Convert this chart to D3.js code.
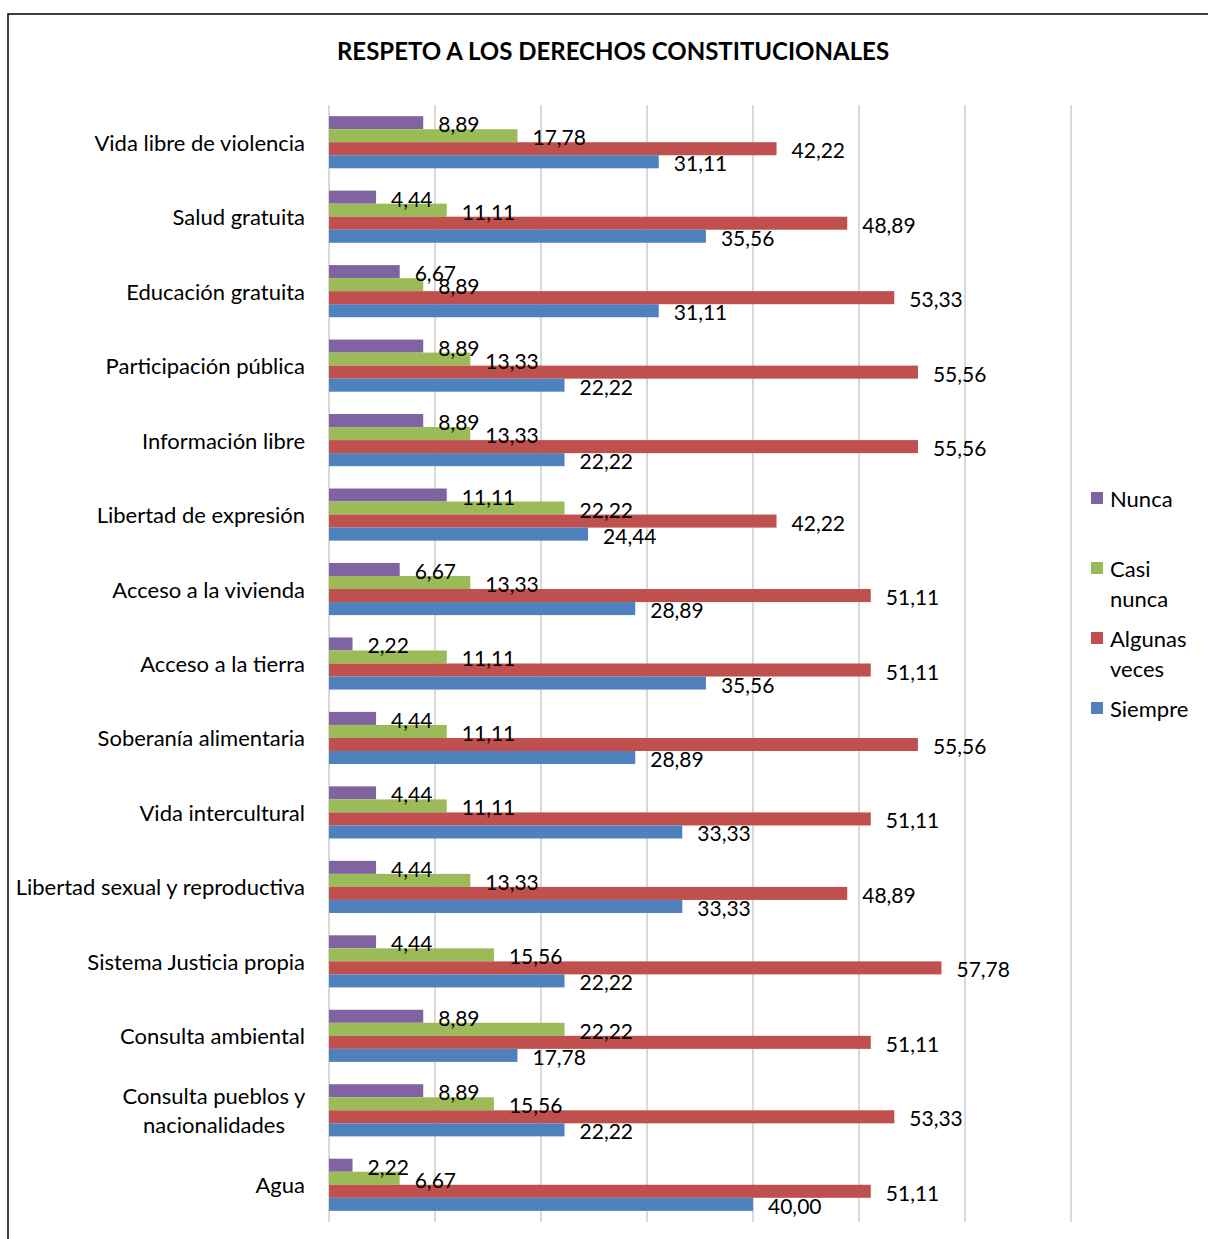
<!DOCTYPE html>
<html>
<head>
<meta charset="utf-8">
<script src="https://cdn.jsdelivr.net/npm/d3@7"></script>
<style>
  body { margin: 0; background: #fff; }
  text { font-family: Lato, "Open Sans", sans-serif; fill: #000; }
</style>
</head>
<body>
<div id="chart"></div>
<script>
var categories = [
  "Vida libre de violencia", "Salud gratuita", "Educación gratuita",
  "Participación pública", "Información libre", "Libertad de expresión",
  "Acceso a la vivienda", "Acceso a la tierra", "Soberanía alimentaria",
  "Vida intercultural", "Libertad sexual y reproductiva", "Sistema Justicia propia",
  "Consulta ambiental", "Consulta pueblos y nacionalidades", "Agua"
];
var nunca        = [8.89, 4.44, 6.67, 8.89, 8.89, 11.11, 6.67, 2.22, 4.44, 4.44, 4.44, 4.44, 8.89, 8.89, 2.22];
var casiNunca    = [17.78, 11.11, 8.89, 13.33, 13.33, 22.22, 13.33, 11.11, 11.11, 11.11, 13.33, 15.56, 22.22, 15.56, 6.67];
var algunasVeces = [42.22, 48.89, 53.33, 55.56, 55.56, 42.22, 51.11, 51.11, 55.56, 51.11, 48.89, 57.78, 51.11, 53.33, 51.11];
var siempre      = [31.11, 35.56, 31.11, 22.22, 22.22, 24.44, 28.89, 35.56, 28.89, 33.33, 33.33, 22.22, 17.78, 22.22, 40.00];
var xTicks = [0, 10, 20, 30, 40, 50, 60, 70];

var series = [
  {name: "Nunca", legend: ["Nunca"], values: nunca, color: "#8064A2"},
  {name: "Casi nunca", legend: ["Casi", "nunca"], values: casiNunca, color: "#9BBB59"},
  {name: "Algunas veces", legend: ["Algunas", "veces"], values: algunasVeces, color: "#C0504D"},
  {name: "Siempre", legend: ["Siempre"], values: siempre, color: "#4F81BD"}
];

var W = 1208, H = 1239;
var plot = {left: 329, right: 1071, top: 105, bottom: 1222};

var svg = d3.select("#chart").append("svg")
    .attr("width", W)
    .attr("height", H);

// frame of the chart area
svg.append("rect")
    .attr("x", 8).attr("y", 14)
    .attr("width", 1230).attr("height", 1250)
    .attr("fill", "none")
    .attr("stroke", "#000")
    .attr("stroke-width", 1.5);

svg.append("text")
    .attr("x", 613).attr("y", 60)
    .attr("text-anchor", "middle")
    .style("font-weight", "bold")
    .style("font-size", "24px")
    .text("RESPETO A LOS DERECHOS CONSTITUCIONALES");

var x = d3.scaleLinear().domain([0, 70]).range([plot.left, plot.right]);
var y = d3.scaleBand().domain(categories).range([plot.top, plot.bottom])
    .paddingInner(0.3).paddingOuter(0.15);
var y1 = d3.scaleBand().domain(series.map(function(s) { return s.name; }))
    .range([0, y.bandwidth()]);

// gridlines
svg.append("g")
    .attr("class", "grid")
    .selectAll("line")
    .data(xTicks)
    .enter().append("line")
    .attr("x1", function(d) { return x(d); })
    .attr("x2", function(d) { return x(d); })
    .attr("y1", plot.top).attr("y2", plot.bottom)
    .attr("stroke", "#d9d9d9")
    .attr("stroke-width", 2);

var fmt = function(v) { return v.toFixed(2).replace(".", ","); };

var groups = svg.selectAll(".cat")
    .data(categories)
    .enter().append("g")
    .attr("class", "cat")
    .attr("transform", function(c) { return "translate(0," + y(c) + ")"; });

series.forEach(function(s) {
  groups.append("rect")
      .attr("x", x(0))
      .attr("y", y1(s.name))
      .attr("width", function(c, i) { return x(s.values[i]) - x(0); })
      .attr("height", y1.bandwidth())
      .attr("fill", s.color);
});

series.forEach(function(s) {
  groups.append("text")
      .attr("x", function(c, i) { return x(s.values[i]) + 15; })
      .attr("y", y1(s.name) + y1.bandwidth() / 2 + 1)
      .attr("dominant-baseline", "central")
      .style("font-size", "21px")
      .text(function(c, i) { return fmt(s.values[i]); });
});

// category labels (long ones wrap onto two centred lines)
var wrapped = {"Consulta pueblos y nacionalidades": ["Consulta pueblos y", "nacionalidades"]};
categories.forEach(function(c) {
  var cy = y(c) + y.bandwidth() / 2;
  var lines = wrapped[c];
  if (!lines) {
    svg.append("text")
        .attr("x", 305).attr("y", cy)
        .attr("text-anchor", "end")
        .attr("dominant-baseline", "central")
        .style("font-size", "22px")
        .text(c);
  } else {
    lines.forEach(function(l, j) {
      svg.append("text")
          .attr("x", 214).attr("y", cy + (j - 0.5) * 29)
          .attr("text-anchor", "middle")
          .attr("dominant-baseline", "central")
          .style("font-size", "22px")
          .text(l);
    });
  }
});

// legend
var legendTops = [498, 568, 638, 708];
series.forEach(function(s, i) {
  var ly = legendTops[i];
  svg.append("rect")
      .attr("x", 1091).attr("y", ly - 6)
      .attr("width", 12).attr("height", 12)
      .attr("fill", s.color);
  s.legend.forEach(function(l, j) {
    svg.append("text")
        .attr("x", 1110).attr("y", ly + j * 30)
        .attr("dominant-baseline", "central")
        .style("font-size", "22px")
        .text(l);
  });
});
</script>
</body>
</html>
